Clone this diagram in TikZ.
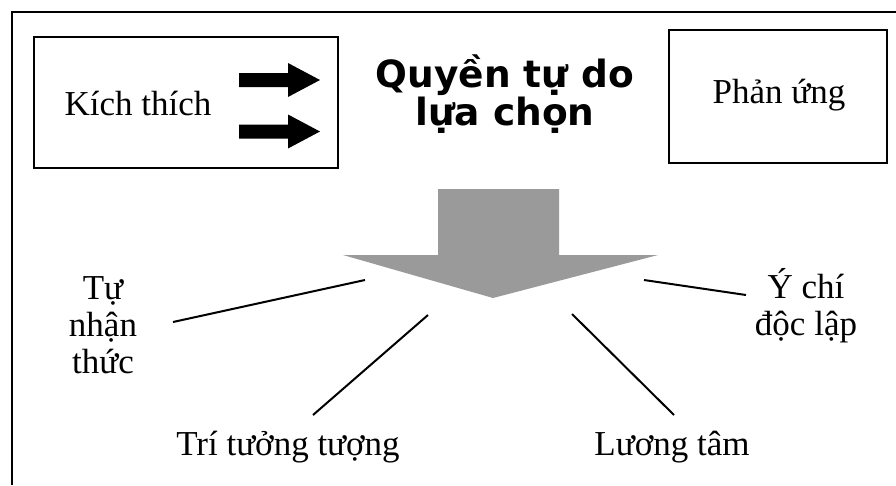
\documentclass[tikz,border=0pt]{standalone}
\usepackage{fontspec}
\setmainfont{Liberation Serif}
\newfontfamily\titlefont{DejaVu Sans}
\usepackage{xcolor}
\definecolor{arrowgray}{HTML}{9A9A9A}
\tikzset{
	frame line/.style={line width=2.5pt},
	box/.style={draw,line width=2.5pt,inner sep=0pt},
	word/.style={font=\fontsize{35}{37}\selectfont,align=center,inner sep=0pt,anchor=base},
	title/.style={font=\titlefont\bfseries\fontsize{37.5}{32}\selectfont,align=center,inner sep=0pt,anchor=base},
	link/.style={line width=2pt}
}

\begin{document}
\begin{tikzpicture}[x=1pt,y=-1pt]
	\useasboundingbox (0,0) rectangle (896,485);
	% outer frame
	\draw [frame line] (12,485) -- (12,12) -- (896,12);
	% boxes
	\node [box,minimum width=304pt,minimum height=131pt] (kichbox) at (186,102.5) {};
	\node [box,minimum width=218pt,minimum height=133pt] (phanbox) at (778,96.5) {};
	\node [word] (kich) at (138,115) {Kích thích};
	\node [word] (phan) at (779,103) {Phản ứng};
	% small black arrows
	\foreach \y in {80,131.5}
		\fill (239,{\y-7}) -- (288,{\y-7}) -- (288,{\y-17}) -- (320,\y)
			-- (288,{\y+17}) -- (288,{\y+7}) -- (239,{\y+7}) -- cycle;
	\node [title] (quyen) at (505,125) {Quyền tự do\\lựa chọn};
	% big grey arrow
	\fill [arrowgray] (438,189) -- (559,189) -- (559,255) -- (658,255)
		-- (493,298) -- (343,255) -- (438,255) -- cycle;
	% the four qualities
	\node [word] (tunhan) at (103,373) {Tự\\nhận\\thức};
	\node [word] (tri) at (288,455) {Trí tưởng tượng};
	\node [word] (luong) at (672,455) {Lương tâm};
	\node [word] (ychi) at (806,335) {Ý chí\\độc lập};
	\coordinate (a1) at (173,322);
	\coordinate (a2) at (365,280);
	\coordinate (b1) at (313,415);
	\coordinate (b2) at (428,315);
	\coordinate (c1) at (674,415);
	\coordinate (c2) at (572,314);
	\coordinate (d1) at (746,295);
	\coordinate (d2) at (644,280);
	\draw [link] (a1) -- (a2);
	\draw [link] (b1) -- (b2);
	\draw [link] (c1) -- (c2);
	\draw [link] (d1) -- (d2);
\end{tikzpicture}
\end{document}
